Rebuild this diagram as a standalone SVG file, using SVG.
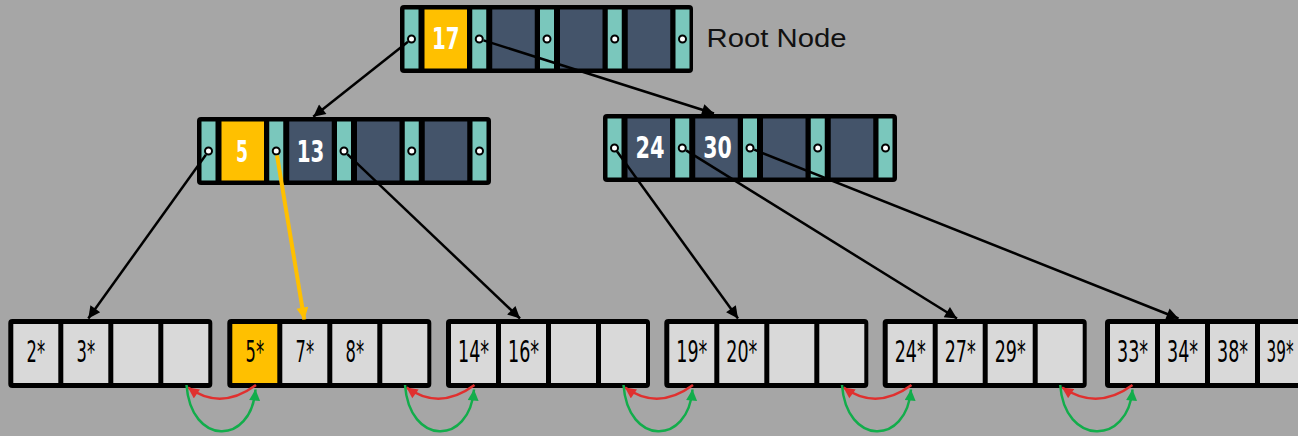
<svg xmlns="http://www.w3.org/2000/svg" width="1298" height="436" viewBox="0 0 1298 436">
<style>
.frame{fill:#000}
.teal{fill:#7AC7BC}
.key{fill:#44546A}
.keyY{fill:#FFC000}
.cell{fill:#D9D9D9}
.cellY{fill:#FFC000}
.ptr{fill:#fff;stroke:#000;stroke-width:2}
.kt{font-family:"Liberation Sans Narrow","DejaVu Sans Condensed",sans-serif;font-weight:bold;font-size:30px;fill:#fff;text-anchor:middle}
.lt{font-family:"Liberation Sans Narrow","DejaVu Sans Condensed",sans-serif;font-size:30px;fill:#000;text-anchor:middle}
.lbl{font-family:"Liberation Sans",Arial,sans-serif;font-size:26px;fill:#111}
.con{fill:none;stroke:#000;stroke-width:2.5}
.conY{fill:none;stroke:#FFC000;stroke-width:4}
.red{fill:none;stroke:#E0302F;stroke-width:2.5}
.green{fill:none;stroke:#12AD4B;stroke-width:2.5}
</style>
<defs>
<marker id="ab" viewBox="0 0 10 10" refX="10" refY="5" markerWidth="14" markerHeight="12" orient="auto" markerUnits="userSpaceOnUse"><path d="M0,0 L10,5 L0,10 z" fill="#000"/></marker>
<marker id="ay" viewBox="0 0 10 10" refX="10" refY="5" markerWidth="14" markerHeight="12" orient="auto" markerUnits="userSpaceOnUse"><path d="M0,0 L10,5 L0,10 z" fill="#FFC000"/></marker>
<marker id="ar" viewBox="0 0 10 10" refX="10" refY="5" markerWidth="12" markerHeight="11" orient="auto" markerUnits="userSpaceOnUse"><path d="M0,0 L10,5 L0,10 z" fill="#E0302F"/></marker>
<marker id="ag" viewBox="0 0 10 10" refX="10" refY="5" markerWidth="12" markerHeight="11" orient="auto" markerUnits="userSpaceOnUse"><path d="M0,0 L10,5 L0,10 z" fill="#12AD4B"/></marker>
</defs>
<rect x="0" y="0" width="1298" height="436" fill="#A6A6A6"/>

<g id="root" transform="translate(400,5)">
<rect class="frame" x="0" y="0" width="293" height="68" rx="4"/>
<rect class="teal" x="4.5" y="4.5" width="14" height="59"/>
<rect class="keyY" x="24.5" y="4.5" width="42.5" height="59"/>
<rect class="teal" x="72.25" y="4.5" width="14" height="59"/>
<rect class="key" x="92.25" y="4.5" width="42.5" height="59"/>
<rect class="teal" x="140" y="4.5" width="14" height="59"/>
<rect class="key" x="160" y="4.5" width="42.5" height="59"/>
<rect class="teal" x="207.75" y="4.5" width="14" height="59"/>
<rect class="key" x="227.75" y="4.5" width="42.5" height="59"/>
<rect class="teal" x="275.5" y="4.5" width="14" height="59"/>
<circle class="ptr" cx="11.5" cy="34" r="3.5"/>
<circle class="ptr" cx="79.25" cy="34" r="3.5"/>
<circle class="ptr" cx="147" cy="34" r="3.5"/>
<circle class="ptr" cx="214.75" cy="34" r="3.5"/>
<circle class="ptr" cx="282.5" cy="34" r="3.5"/>
<text class="kt" x="45.75" y="43.5" textLength="27.5" lengthAdjust="spacingAndGlyphs">17</text>
</g>
<text class="lbl" x="706.5" y="46.7" textLength="140" lengthAdjust="spacingAndGlyphs">Root Node</text>

<g id="inner-left" transform="translate(197,117)">
<rect class="frame" x="0" y="0" width="294" height="68" rx="4"/>
<rect class="teal" x="4.5" y="4.5" width="14" height="59"/>
<rect class="keyY" x="24.5" y="4.5" width="42.5" height="59"/>
<rect class="teal" x="72.25" y="4.5" width="14" height="59"/>
<rect class="key" x="92.25" y="4.5" width="42.5" height="59"/>
<rect class="teal" x="140" y="4.5" width="14" height="59"/>
<rect class="key" x="160" y="4.5" width="42.5" height="59"/>
<rect class="teal" x="207.75" y="4.5" width="14" height="59"/>
<rect class="key" x="227.75" y="4.5" width="42.5" height="59"/>
<rect class="teal" x="275.5" y="4.5" width="14" height="59"/>
<circle class="ptr" cx="11.5" cy="34" r="3.5"/>
<circle class="ptr" cx="79.25" cy="34" r="3.5"/>
<circle class="ptr" cx="147" cy="34" r="3.5"/>
<circle class="ptr" cx="214.75" cy="34" r="3.5"/>
<circle class="ptr" cx="282.5" cy="34" r="3.5"/>
<text class="kt" x="45" y="44.5" textLength="12" lengthAdjust="spacingAndGlyphs">5</text>
<text class="kt" x="113.5" y="44.5" textLength="27.5" lengthAdjust="spacingAndGlyphs">13</text>
</g>

<g id="inner-right" transform="translate(603,114)">
<rect class="frame" x="0" y="0" width="294" height="68" rx="4"/>
<rect class="teal" x="4.5" y="4.5" width="14" height="59"/>
<rect class="key" x="24.5" y="4.5" width="42.5" height="59"/>
<rect class="teal" x="72.25" y="4.5" width="14" height="59"/>
<rect class="key" x="92.25" y="4.5" width="42.5" height="59"/>
<rect class="teal" x="140" y="4.5" width="14" height="59"/>
<rect class="key" x="160" y="4.5" width="42.5" height="59"/>
<rect class="teal" x="207.75" y="4.5" width="14" height="59"/>
<rect class="key" x="227.75" y="4.5" width="42.5" height="59"/>
<rect class="teal" x="275.5" y="4.5" width="14" height="59"/>
<circle class="ptr" cx="11.5" cy="34" r="3.5"/>
<circle class="ptr" cx="79.25" cy="34" r="3.5"/>
<circle class="ptr" cx="147" cy="34" r="3.5"/>
<circle class="ptr" cx="214.75" cy="34" r="3.5"/>
<circle class="ptr" cx="282.5" cy="34" r="3.5"/>
<text class="kt" x="47" y="43.7" textLength="29" lengthAdjust="spacingAndGlyphs">24</text>
<text class="kt" x="114.5" y="43.7" textLength="28.5" lengthAdjust="spacingAndGlyphs">30</text>
</g>

<g id="leaf-1" transform="translate(8.3,319)">
<rect class="frame" x="0" y="0" width="204" height="69" rx="4"/>
<rect class="cell" x="5" y="5" width="45" height="59"/>
<rect class="cell" x="55" y="5" width="45" height="59"/>
<rect class="cell" x="105" y="5" width="45" height="59"/>
<rect class="cell" x="155" y="5" width="45" height="59"/>
<text class="lt" x="27.5" y="42.7" textLength="18.5" lengthAdjust="spacingAndGlyphs">2*</text>
<text class="lt" x="77.5" y="42.7" textLength="18.5" lengthAdjust="spacingAndGlyphs">3*</text>
</g>

<g id="leaf-2" transform="translate(227.3,319)">
<rect class="frame" x="0" y="0" width="204" height="69" rx="4"/>
<rect class="cellY" x="5" y="5" width="45" height="59"/>
<rect class="cell" x="55" y="5" width="45" height="59"/>
<rect class="cell" x="105" y="5" width="45" height="59"/>
<rect class="cell" x="155" y="5" width="45" height="59"/>
<text class="lt" x="27.5" y="42.7" textLength="18.5" lengthAdjust="spacingAndGlyphs">5*</text>
<text class="lt" x="77.5" y="42.7" textLength="18.5" lengthAdjust="spacingAndGlyphs">7*</text>
<text class="lt" x="127.5" y="42.7" textLength="18.5" lengthAdjust="spacingAndGlyphs">8*</text>
</g>

<g id="leaf-3" transform="translate(446,319)">
<rect class="frame" x="0" y="0" width="204" height="69" rx="4"/>
<rect class="cell" x="5" y="5" width="45" height="59"/>
<rect class="cell" x="55" y="5" width="45" height="59"/>
<rect class="cell" x="105" y="5" width="45" height="59"/>
<rect class="cell" x="155" y="5" width="45" height="59"/>
<text class="lt" x="27.5" y="42.7" textLength="31" lengthAdjust="spacingAndGlyphs">14*</text>
<text class="lt" x="77.5" y="42.7" textLength="31" lengthAdjust="spacingAndGlyphs">16*</text>
</g>

<g id="leaf-4" transform="translate(664.3,319)">
<rect class="frame" x="0" y="0" width="204" height="69" rx="4"/>
<rect class="cell" x="5" y="5" width="45" height="59"/>
<rect class="cell" x="55" y="5" width="45" height="59"/>
<rect class="cell" x="105" y="5" width="45" height="59"/>
<rect class="cell" x="155" y="5" width="45" height="59"/>
<text class="lt" x="27.5" y="42.7" textLength="31" lengthAdjust="spacingAndGlyphs">19*</text>
<text class="lt" x="77.5" y="42.7" textLength="31" lengthAdjust="spacingAndGlyphs">20*</text>
</g>

<g id="leaf-5" transform="translate(882.7,319)">
<rect class="frame" x="0" y="0" width="204" height="69" rx="4"/>
<rect class="cell" x="5" y="5" width="45" height="59"/>
<rect class="cell" x="55" y="5" width="45" height="59"/>
<rect class="cell" x="105" y="5" width="45" height="59"/>
<rect class="cell" x="155" y="5" width="45" height="59"/>
<text class="lt" x="27.5" y="42.7" textLength="31" lengthAdjust="spacingAndGlyphs">24*</text>
<text class="lt" x="77.5" y="42.7" textLength="31" lengthAdjust="spacingAndGlyphs">27*</text>
<text class="lt" x="127.5" y="42.7" textLength="31" lengthAdjust="spacingAndGlyphs">29*</text>
</g>

<g id="leaf-6" transform="translate(1105,319)">
<rect class="frame" x="0" y="0" width="204" height="69" rx="4"/>
<rect class="cell" x="5" y="5" width="45" height="59"/>
<rect class="cell" x="55" y="5" width="45" height="59"/>
<rect class="cell" x="105" y="5" width="45" height="59"/>
<rect class="cell" x="155" y="5" width="45" height="59"/>
<text class="lt" x="27.5" y="42.7" textLength="31" lengthAdjust="spacingAndGlyphs">33*</text>
<text class="lt" x="77.5" y="42.7" textLength="31" lengthAdjust="spacingAndGlyphs">34*</text>
<text class="lt" x="127.5" y="42.7" textLength="31" lengthAdjust="spacingAndGlyphs">38*</text>
<text class="lt" x="175" y="42.7" textLength="27" lengthAdjust="spacingAndGlyphs">39*</text>
</g>

<g id="connectors">
<path class="con" d="M408,41.8 L313.3,116.7" marker-end="url(#ab)"/>
<path class="con" d="M483.5,40.4 L714,113.5" marker-end="url(#ab)"/>
<path class="con" d="M205.9,154.7 L88.3,318.5" marker-end="url(#ab)"/>
<path class="conY" d="M277,155.4 L304.3,319.5" marker-end="url(#ay)"/>
<path class="con" d="M347.3,154.1 L520,318.5" marker-end="url(#ab)"/>
<path class="con" d="M617.1,151.6 L738,318.5" marker-end="url(#ab)"/>
<path class="con" d="M686.1,150.4 L957,318.5" marker-end="url(#ab)"/>
<path class="con" d="M754.2,149.7 L1178.5,318.5" marker-end="url(#ab)"/>

<path class="red" d="M256,385 Q221,411 188,387.5" marker-end="url(#ar)"/>
<path class="green" d="M186.5,385 C191,446 251,446 255.5,389.5" marker-end="url(#ag)"/>
<path class="red" d="M474.5,385 Q439.5,411 406.5,387.5" marker-end="url(#ar)"/>
<path class="green" d="M405,385 C409.5,446 469.5,446 474,389.5" marker-end="url(#ag)"/>
<path class="red" d="M693,385 Q658,411 625,387.5" marker-end="url(#ar)"/>
<path class="green" d="M623.5,385 C628,446 688,446 692.5,389.5" marker-end="url(#ag)"/>
<path class="red" d="M911.5,385 Q876.5,411 843.5,387.5" marker-end="url(#ar)"/>
<path class="green" d="M842,385 C846.5,446 906.5,446 911,389.5" marker-end="url(#ag)"/>
<path class="red" d="M1132.5,385 Q1097.5,411 1062,387.5" marker-end="url(#ar)"/>
<path class="green" d="M1060.2,385 C1064.7,446 1128,446 1132.5,389.5" marker-end="url(#ag)"/>
</g>
</svg>
